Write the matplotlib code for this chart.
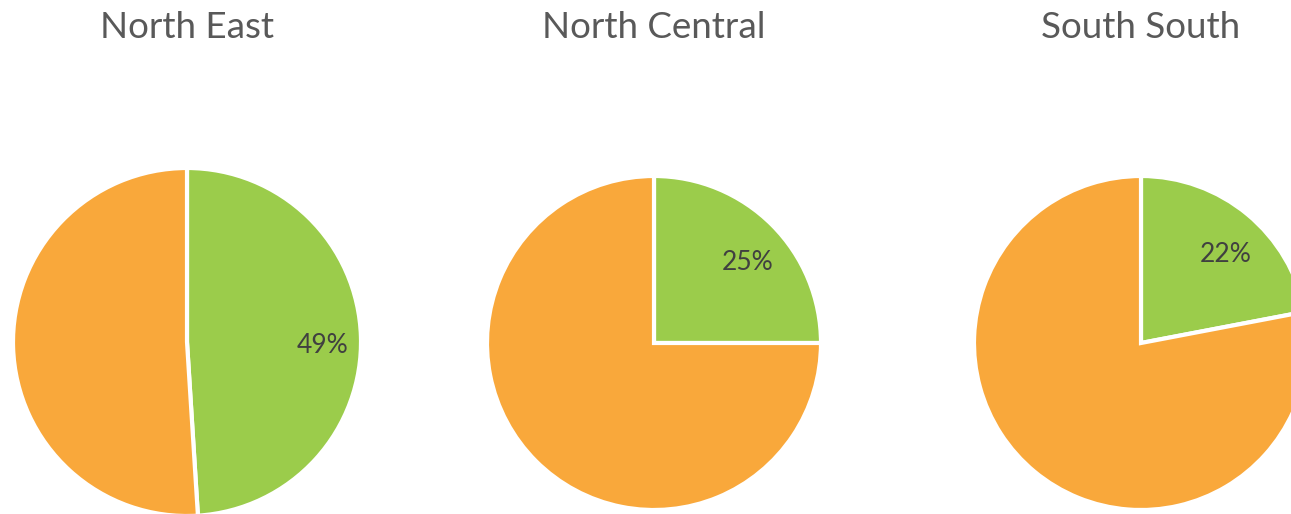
import matplotlib.pyplot as plt

# data
regions = ['North East', 'North Central', 'South South']
yes_share = [49, 25, 22]
no_share = [51, 75, 78]

green = '#9BCC4B'
orange = '#F9A83B'

fig = plt.figure(figsize=(12.91, 5.14), dpi=100)
ax = fig.add_axes([0, 0, 1, 1])

# pie centres / radii in pixel space (y measured from bottom)
centres = [(187, 172), (654, 171), (1141, 171)]
radii = [174, 167, 167]
title_x = [187, 654, 1141]

for i in range(len(regions)):
    wedges, texts, autotexts = ax.pie(
        [yes_share[i], no_share[i]],
        colors=[green, orange],
        startangle=90, counterclock=False,
        center=centres[i], radius=radii[i],
        autopct=lambda p: '%d%%' % round(p) if p < 50 else '',
        pctdistance=0.75,
        wedgeprops=dict(edgecolor='white', linewidth=3),
        textprops=dict(color='#404040', fontsize=19, family='Lato'),
        frame=True)
    # nudge labels a little (Excel-style placement)
    for t in autotexts:
        x, y = t.get_position()
        t.set_position((x + 5, y - 8))
    ax.text(title_x[i], 514 - 28, regions[i], ha='center', va='center',
            fontsize=26.5, color='#595959', family='Lato')

ax.set_xlim(0, 1291)
ax.set_ylim(0, 514)
ax.set_aspect('equal')
ax.axis('off')

plt.savefig('out.png', dpi=100)
